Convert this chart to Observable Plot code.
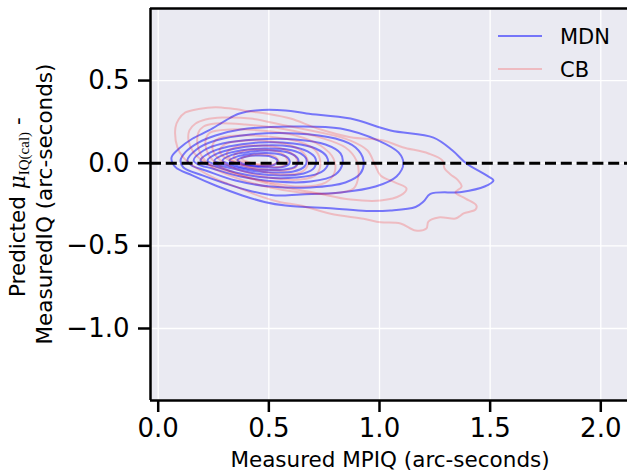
<!DOCTYPE html>
<html><head><meta charset="utf-8">
<script src="https://cdn.jsdelivr.net/npm/d3@7"></script>
<script src="https://cdn.jsdelivr.net/npm/@observablehq/plot@0.6"></script>
<style>body{margin:0;background:#fff} svg{display:block}</style>
</head><body><div id="chart"></div>
<script>
// axis ticks and domains
const xTicks = [0.0, 0.5, 1.0, 1.5, 2.0];
const yTicks = [0.5, 0.0, -0.5, -1.0];
const xDomain = [-0.0348, 2.1207];
const yDomain = [-1.4356, 0.9359];
const seriesNames = ["MDN", "CB"];
const xLabel = "Measured MPIQ (arc-seconds)";
const yLabelLine2 = "MeasuredIQ (arc-seconds)";
const refLine = [0];

// MDN density contours (outermost first)
const mdnContours = [
  [[0.060,0.034],[0.093,0.087],[0.154,0.148],[0.229,0.198],[0.304,0.258],[0.364,0.299],[0.440,0.319],[0.575,0.319],[0.670,0.301],[0.869,0.270],[1.050,0.198],[1.244,0.155],[1.330,0.077],[1.393,-0.002],[1.484,-0.074],[1.515,-0.105],[1.475,-0.141],[1.371,-0.174],[1.230,-0.186],[1.199,-0.232],[1.163,-0.265],[1.050,-0.286],[0.941,-0.289],[0.792,-0.274],[0.575,-0.256],[0.485,-0.236],[0.380,-0.195],[0.259,-0.135],[0.154,-0.074],[0.078,-0.024]],
  [[0.101,0.016],[0.123,0.067],[0.182,0.125],[0.259,0.168],[0.372,0.204],[0.598,0.222],[0.824,0.210],[0.995,0.137],[1.086,0.065],[1.108,-0.002],[1.077,-0.080],[0.982,-0.141],[0.824,-0.177],[0.643,-0.189],[0.530,-0.195],[0.408,-0.165],[0.304,-0.123],[0.200,-0.074],[0.114,-0.026]],
  [[0.132,0.016],[0.173,0.083],[0.259,0.137],[0.417,0.174],[0.620,0.180],[0.801,0.149],[0.892,0.095],[0.928,0.016],[0.914,-0.062],[0.846,-0.117],[0.688,-0.147],[0.507,-0.141],[0.349,-0.105],[0.214,-0.044],[0.151,-0.014]],
  [[0.160,0.016],[0.205,0.077],[0.291,0.119],[0.440,0.143],[0.620,0.143],[0.756,0.113],[0.824,0.059],[0.833,-0.002],[0.801,-0.068],[0.688,-0.111],[0.530,-0.111],[0.372,-0.080],[0.245,-0.032],[0.182,-0.008]],
  [[0.191,0.016],[0.236,0.065],[0.318,0.101],[0.453,0.125],[0.611,0.119],[0.711,0.089],[0.761,0.041],[0.765,-0.014],[0.724,-0.062],[0.620,-0.087],[0.485,-0.087],[0.349,-0.056],[0.259,-0.020],[0.210,-0.002]],
  [[0.223,0.016],[0.268,0.059],[0.349,0.089],[0.471,0.107],[0.598,0.101],[0.675,0.071],[0.711,0.028],[0.706,-0.026],[0.657,-0.062],[0.553,-0.074],[0.440,-0.062],[0.336,-0.032],[0.259,-0.008]],
  [[0.254,0.016],[0.300,0.053],[0.372,0.077],[0.480,0.089],[0.584,0.083],[0.643,0.059],[0.670,0.022],[0.661,-0.020],[0.611,-0.050],[0.517,-0.056],[0.417,-0.044],[0.336,-0.020],[0.282,-0.002]],
  [[0.291,0.016],[0.327,0.047],[0.394,0.065],[0.485,0.077],[0.566,0.071],[0.616,0.047],[0.634,0.016],[0.620,-0.020],[0.571,-0.038],[0.489,-0.041],[0.408,-0.032],[0.340,-0.011]],
  [[0.322,0.016],[0.358,0.041],[0.417,0.056],[0.489,0.062],[0.553,0.053],[0.589,0.028],[0.593,-0.002],[0.562,-0.023],[0.489,-0.026],[0.417,-0.017],[0.354,-0.002]],
  [[0.358,0.019],[0.399,0.041],[0.453,0.047],[0.507,0.041],[0.539,0.016],[0.526,-0.008],[0.471,-0.017],[0.413,-0.011],[0.372,0.004]]
];

// CB density contours (outermost first)
const cbContours = [
  [[0.078,0.216],[0.092,0.264],[0.123,0.307],[0.182,0.328],[0.259,0.339],[0.336,0.329],[0.417,0.313],[0.494,0.299],[0.598,0.270],[0.720,0.210],[0.869,0.157],[1.018,0.137],[1.104,0.097],[1.221,0.059],[1.285,0.016],[1.294,-0.032],[1.321,-0.068],[1.352,-0.099],[1.371,-0.141],[1.343,-0.177],[1.389,-0.214],[1.438,-0.256],[1.434,-0.280],[1.380,-0.304],[1.361,-0.322],[1.343,-0.335],[1.267,-0.328],[1.221,-0.353],[1.212,-0.395],[1.163,-0.407],[1.095,-0.365],[1.005,-0.357],[0.928,-0.336],[0.779,-0.306],[0.643,-0.256],[0.553,-0.236],[0.462,-0.201],[0.372,-0.153],[0.259,-0.093],[0.169,-0.026],[0.114,0.034],[0.087,0.095]],
  [[0.141,0.198],[0.169,0.240],[0.214,0.264],[0.291,0.276],[0.417,0.270],[0.553,0.234],[0.733,0.186],[0.869,0.137],[0.946,0.077],[0.977,-0.002],[1.005,-0.074],[1.072,-0.117],[1.122,-0.153],[1.095,-0.195],[1.005,-0.226],[0.869,-0.220],[0.702,-0.177],[0.553,-0.141],[0.417,-0.093],[0.304,-0.044],[0.214,0.004],[0.160,0.065],[0.137,0.137]],
  [[0.182,0.186],[0.205,0.222],[0.259,0.240],[0.394,0.234],[0.553,0.210],[0.733,0.155],[0.846,0.095],[0.896,0.016],[0.905,-0.074],[0.883,-0.153],[0.779,-0.183],[0.643,-0.177],[0.485,-0.141],[0.349,-0.087],[0.245,-0.026],[0.195,0.047],[0.177,0.119]],
  [[0.214,0.137],[0.236,0.186],[0.327,0.204],[0.462,0.198],[0.620,0.168],[0.733,0.107],[0.792,0.028],[0.797,-0.056],[0.756,-0.117],[0.643,-0.141],[0.507,-0.117],[0.381,-0.074],[0.282,-0.020],[0.227,0.053]],
  [[0.245,0.107],[0.272,0.149],[0.372,0.168],[0.498,0.162],[0.634,0.131],[0.711,0.077],[0.733,-0.002],[0.715,-0.068],[0.643,-0.099],[0.530,-0.093],[0.417,-0.062],[0.318,-0.014],[0.259,0.047]],
  [[0.277,0.077],[0.309,0.119],[0.394,0.137],[0.507,0.131],[0.611,0.101],[0.666,0.047],[0.675,-0.014],[0.643,-0.056],[0.553,-0.068],[0.453,-0.044],[0.358,-0.002],[0.295,0.041]],
  [[0.309,0.059],[0.345,0.095],[0.417,0.107],[0.517,0.101],[0.589,0.071],[0.625,0.028],[0.625,-0.020],[0.575,-0.044],[0.485,-0.038],[0.394,-0.014],[0.331,0.022]],
  [[0.340,0.041],[0.376,0.071],[0.444,0.083],[0.521,0.077],[0.571,0.047],[0.584,0.004],[0.557,-0.020],[0.489,-0.020],[0.417,-0.002],[0.363,0.016]],
  [[0.376,0.028],[0.417,0.047],[0.476,0.053],[0.526,0.041],[0.544,0.010],[0.512,-0.008],[0.449,-0.005],[0.399,0.010]]
];

const toRows = (name, contours) => contours.flatMap((c, i) => c.map(([x, y]) => ({series: name, level: name + i, x, y})));
const mdnRows = toRows(seriesNames[0], mdnContours);
const cbRows = toRows(seriesNames[1], cbContours);

const colors = {MDN: {stroke: "blue", opacity: 0.5}, CB: {stroke: "red", opacity: 0.2}};
const fmt = d3.format(".1f");

const plot = Plot.plot({
  width: 627, height: 476,
  marginLeft: 150, marginRight: 0, marginTop: 8, marginBottom: 76,
  x: {domain: xDomain, label: null},
  y: {domain: yDomain, label: null},
  style: {fontFamily: "DejaVu Sans", fontSize: "25px", background: "white", color: "black", overflow: "visible"},
  marks: [
    Plot.frame({fill: "#EAEAF2", stroke: null}),
    Plot.gridX(xTicks, {stroke: "white", strokeOpacity: 1, strokeWidth: 1.3}),
    Plot.gridY(yTicks, {stroke: "white", strokeOpacity: 1, strokeWidth: 1.3}),
    Plot.line(mdnRows, {x: "x", y: "y", z: "level", curve: "catmull-rom-closed", stroke: colors.MDN.stroke, strokeOpacity: colors.MDN.opacity, strokeWidth: 2}),
    Plot.line(cbRows, {x: "x", y: "y", z: "level", curve: "catmull-rom-closed", stroke: colors.CB.stroke, strokeOpacity: colors.CB.opacity, strokeWidth: 2}),
    Plot.ruleY(refLine, {stroke: "black", strokeWidth: 3, strokeDasharray: "11,4.8"}),
    Plot.ruleX([xDomain[0]], {stroke: "black", strokeWidth: 2.5}),
    Plot.ruleY([yDomain[0], yDomain[1]], {stroke: "black", strokeWidth: 2.5}),
    Plot.axisX(xTicks, {anchor: "bottom", tickSize: 12, tickPadding: 6, fontSize: 25, strokeWidth: 2.5, tickFormat: fmt, label: null}),
    Plot.axisY(yTicks, {anchor: "left", tickSize: 12, tickPadding: 9, fontSize: 25, strokeWidth: 2.5, tickFormat: fmt, label: null})
  ]
});

const svg = d3.select(plot);
// force the tick label size
svg.selectAll('g[aria-label$="tick label"]').attr("font-size", 26).style("font-size", "26px");
svg.selectAll('g[aria-label$="tick label"] text').attr("font-size", 26).style("font-size", "26px");

const ns = "DejaVu Sans";
// x label
svg.append("text").attr("x", 390).attr("y", 467).attr("text-anchor", "middle")
  .attr("font-family", ns).attr("font-size", 21.5).attr("fill", "black").text(xLabel);
// y label line 1 with math
const t1 = svg.append("text").attr("transform", "translate(25,297) rotate(-90)")
  .attr("text-anchor", "start").attr("font-family", ns).attr("font-size", 21.5).attr("fill", "black");
t1.append("tspan").text("Predicted ");
t1.append("tspan").attr("font-family", "DejaVu Serif").attr("font-style", "italic").text("μ");
t1.append("tspan").attr("font-family", "Liberation Serif").attr("font-size", 15).attr("dy", 4).text("IQ(cal)");
t1.append("tspan").attr("dy", -4).text(" -");
// y label line 2
svg.append("text").attr("transform", "translate(52,204) rotate(-90)")
  .attr("text-anchor", "middle").attr("font-family", ns).attr("font-size", 21.5).attr("fill", "black").text(yLabelLine2);
// legend
seriesNames.forEach((name, i) => {
  const yy = 36 + i * 33;
  svg.append("line").attr("x1", 498).attr("x2", 542).attr("y1", yy).attr("y2", yy)
    .attr("stroke", colors[name].stroke).attr("stroke-opacity", colors[name].opacity).attr("stroke-width", 2);
  svg.append("text").attr("x", 560).attr("y", yy + 8).attr("text-anchor", "start").attr("font-family", ns).attr("font-size", 21)
    .attr("fill", "black").text(name);
});

document.getElementById("chart").appendChild(plot);
</script>
</body></html>
